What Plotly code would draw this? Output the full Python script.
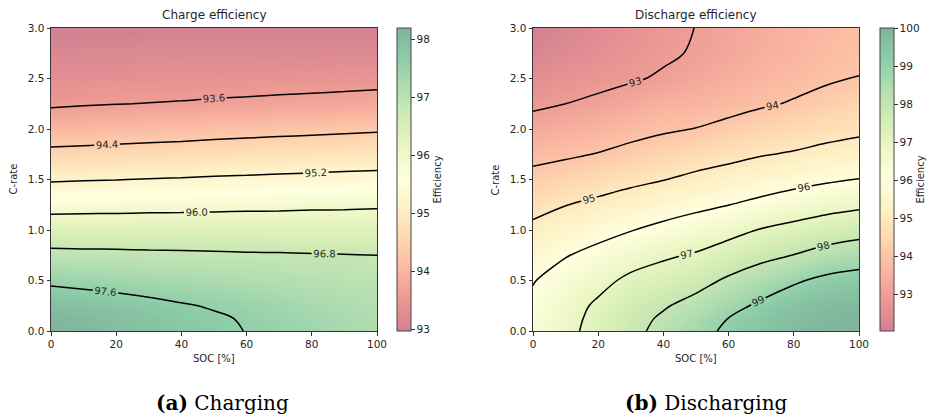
import numpy as np
import plotly.graph_objects as go

# ---------------- data ----------------
SOC = [0, 10, 20, 30, 40, 50, 60, 70, 80, 90, 100]
C_RATE = [0.0, 0.125, 0.25, 0.5, 0.75, 1.0, 1.25, 1.5, 1.75, 2.0, 2.25, 2.5, 2.75, 3.0]

# rows = C-rate, columns = SOC
CHARGE_EFF = [
    [98.19, 98.09, 97.99, 97.89, 97.79, 97.69, 97.59, 97.49, 97.39, 97.29, 97.19],
    [98.14, 98.04, 97.95, 97.85, 97.75, 97.66, 97.56, 97.46, 97.36, 97.27, 97.17],
    [97.99, 97.90, 97.82, 97.73, 97.64, 97.56, 97.47, 97.38, 97.29, 97.21, 97.12],
    [97.49, 97.44, 97.39, 97.34, 97.29, 97.24, 97.19, 97.14, 97.09, 97.04, 96.99],
    [96.96, 96.94, 96.93, 96.91, 96.90, 96.88, 96.86, 96.85, 96.83, 96.82, 96.80],
    [96.38, 96.38, 96.38, 96.38, 96.38, 96.38, 96.37, 96.37, 96.37, 96.37, 96.37],
    [95.77, 95.79, 95.80, 95.82, 95.83, 95.85, 95.87, 95.88, 95.90, 95.91, 95.93],
    [95.14, 95.17, 95.19, 95.22, 95.24, 95.27, 95.29, 95.32, 95.34, 95.37, 95.39],
    [94.55, 94.58, 94.61, 94.64, 94.67, 94.71, 94.74, 94.77, 94.80, 94.83, 94.86],
    [94.02, 94.05, 94.08, 94.11, 94.14, 94.18, 94.21, 94.24, 94.27, 94.30, 94.33],
    [93.52, 93.56, 93.59, 93.61, 93.63, 93.66, 93.68, 93.71, 93.73, 93.76, 93.80],
    [93.32, 93.33, 93.34, 93.36, 93.37, 93.38, 93.39, 93.40, 93.42, 93.43, 93.44],
    [93.14, 93.15, 93.15, 93.16, 93.16, 93.17, 93.17, 93.18, 93.18, 93.19, 93.19],
    [92.97, 92.97, 92.97, 92.97, 92.97, 92.97, 92.97, 92.97, 92.97, 92.97, 92.97],
]

DISCHARGE_EFF = [
    [96.30, 96.79, 97.28, 97.77, 98.25, 98.72, 99.15, 99.50, 99.76, 99.93, 100.0],
    [96.25, 96.73, 97.23, 97.70, 98.12, 98.53, 99.01, 99.38, 99.68, 99.88, 99.96],
    [96.16, 96.64, 97.14, 97.59, 97.92, 98.29, 98.72, 99.16, 99.51, 99.74, 99.84],
    [95.96, 96.36, 96.74, 97.19, 97.41, 97.70, 98.13, 98.49, 98.89, 99.20, 99.35],
    [95.57, 95.96, 96.24, 96.60, 96.88, 97.08, 97.44, 97.77, 98.02, 98.33, 98.54],
    [95.18, 95.47, 95.73, 95.97, 96.22, 96.44, 96.71, 97.05, 97.27, 97.49, 97.67],
    [94.74, 94.98, 95.18, 95.39, 95.59, 95.80, 95.99, 96.21, 96.46, 96.68, 96.83],
    [94.25, 94.42, 94.62, 94.81, 94.98, 95.19, 95.37, 95.55, 95.71, 95.88, 96.02],
    [93.77, 93.89, 94.03, 94.23, 94.41, 94.60, 94.77, 94.95, 95.07, 95.23, 95.37],
    [93.31, 93.45, 93.58, 93.74, 93.90, 94.02, 94.21, 94.41, 94.55, 94.71, 94.83],
    [92.87, 93.00, 93.14, 93.31, 93.52, 93.58, 93.74, 93.91, 94.06, 94.25, 94.42],
    [92.53, 92.68, 92.80, 92.93, 93.08, 93.26, 93.44, 93.61, 93.77, 93.91, 94.01],
    [92.25, 92.43, 92.57, 92.75, 92.90, 93.06, 93.26, 93.44, 93.60, 93.77, 93.92],
    [92.05, 92.25, 92.45, 92.65, 92.84, 93.01, 93.20, 93.38, 93.55, 93.72, 93.89],
]

CHARGE_LEVELS = (93.6, 97.6, 0.8)
DISCHARGE_LEVELS = (93, 99, 1)
X_TICKS = [0, 20, 40, 60, 80, 100]
Y_TICKS = [0.0, 0.5, 1.0, 1.5, 2.0, 2.5, 3.0]
CHARGE_CB_TICKS = [93, 94, 95, 96, 97, 98]
DISCHARGE_CB_TICKS = [93, 94, 95, 96, 97, 98, 99, 100]

# ---------------- style ----------------
W, H = 940, 417
FONT = "DejaVu Sans"
TXT = "#262626"

rdylgn = [(165, 0, 38), (215, 48, 39), (244, 109, 67), (253, 174, 97), (254, 224, 139),
          (255, 255, 191), (217, 239, 139), (166, 217, 106), (102, 189, 99), (26, 152, 80), (0, 104, 55)]
cscale = [[i / 10, "rgb(%d,%d,%d)" % tuple(round(c * 0.5 + 127.5) for c in rgb)]
          for i, rgb in enumerate(rdylgn)]


def px(x):
    return x / W


def py(y):
    return 1 - y / H


panels = [
    dict(z=CHARGE_EFF, lv=CHARGE_LEVELS, fmt=".1f", cbt=CHARGE_CB_TICKS,
         x0=51, x1=377, cbx=397, title="Charge efficiency", yl=13, xa="x", ya="y",
         cap="<b>(a)</b> Charging", capx=222),
    dict(z=DISCHARGE_EFF, lv=DISCHARGE_LEVELS, fmt=".0f", cbt=DISCHARGE_CB_TICKS,
         x0=533, x1=859, cbx=880, title="Discharge efficiency", yl=495, xa="x2", ya="y2",
         cap="<b>(b)</b> Discharging", capx=706),
]

Y0, Y1 = 28, 331

fig = go.Figure()
annotations = []
for i, p in enumerate(panels):
    z = np.array(p["z"])
    fig.add_trace(go.Heatmap(
        x=SOC, y=C_RATE, z=z, zsmooth="best", colorscale=cscale,
        zmin=float(z.min()), zmax=float(z.max()), xaxis=p["xa"], yaxis=p["ya"],
        hoverinfo="skip",
        colorbar=dict(
            x=px(p["cbx"]), xanchor="left", xref="paper", xpad=0, ypad=0,
            y=py(Y1), yanchor="bottom", len=(Y1 - Y0) / H, lenmode="fraction",
            thickness=14, thicknessmode="pixels",
            outlinewidth=1, outlinecolor="#444",
            tickvals=p["cbt"], ticks="outside", ticklen=3.5, tickwidth=1, tickcolor="#333",
            tickfont=dict(family=FONT, size=10.5, color=TXT),
            title=dict(text="Efficiency", side="right", font=dict(family=FONT, size=10, color=TXT)),
        ),
    ))
    st, en, sz = p["lv"]
    fig.add_trace(go.Contour(
        x=SOC, y=C_RATE, z=z, xaxis=p["xa"], yaxis=p["ya"], showscale=False,
        autocontour=False,
        contours=dict(start=st, end=en + 1e-6, size=sz, coloring="none", showlabels=True,
                      labelformat=p["fmt"], labelfont=dict(family=FONT, size=10, color=TXT)),
        line=dict(color="black", width=1.5, smoothing=1.0),
        hoverinfo="skip",
    ))
    sfx = "" if i == 0 else "2"
    common = dict(showline=True, mirror=True, linecolor="#333", linewidth=1, ticks="outside",
                  ticklen=3.5, tickwidth=1, tickcolor="#333", showgrid=False, zeroline=False,
                  automargin=False, tickfont=dict(family=FONT, size=10.5, color=TXT))
    fig.update_layout(**{
        "xaxis" + sfx: dict(domain=[px(p["x0"]), px(p["x1"])], range=[0, 100], tickvals=X_TICKS,
                            anchor="y" + sfx, **common),
        "yaxis" + sfx: dict(domain=[py(Y1), py(Y0)], range=[0, 3], tickvals=Y_TICKS,
                            tickformat=".1f", anchor="x" + sfx, **common),
    })
    cx = (p["x0"] + p["x1"]) / 2
    annotations += [
        dict(text=p["title"], x=px(cx), y=py(15), xref="paper", yref="paper", showarrow=False,
             xanchor="center", yanchor="middle", font=dict(family=FONT, size=12, color=TXT)),
        dict(text="SOC [%]", x=px(cx), y=py(358), xref="paper", yref="paper", showarrow=False,
             xanchor="center", yanchor="middle", font=dict(family=FONT, size=10, color=TXT)),
        dict(text="C-rate", x=px(p["yl"]), y=py((Y0 + Y1) / 2), xref="paper", yref="paper",
             showarrow=False, textangle=-90, xanchor="center", yanchor="middle",
             font=dict(family=FONT, size=10, color=TXT)),
        dict(text=p["cap"], x=px(p["capx"]), y=py(403), xref="paper", yref="paper",
             showarrow=False, xanchor="center", yanchor="middle",
             font=dict(family="DejaVu Serif", size=20, color="black")),
    ]

fig.update_layout(width=W, height=H, margin=dict(l=0, r=0, t=0, b=0, autoexpand=False),
                  paper_bgcolor="white", plot_bgcolor="white", showlegend=False,
                  annotations=annotations)
fig.write_html("out.html", config={"displayModeBar": False},
               post_script="document.body.style.margin='0';")
